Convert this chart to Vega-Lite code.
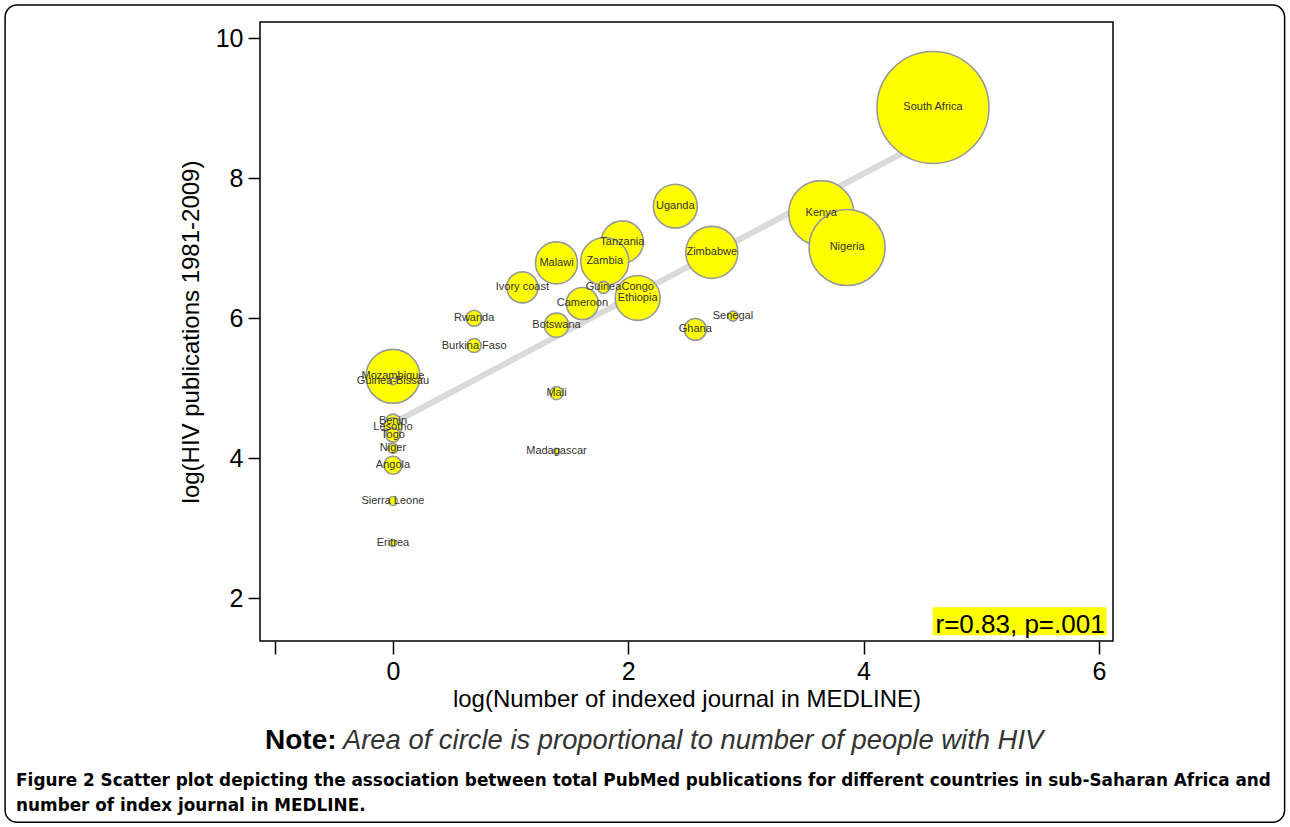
{
  "$schema": "https://vega.github.io/schema/vega-lite/v6.json",
  "autosize": {"type": "none"},
  "width": 853,
  "height": 619,
  "padding": {"left": 260, "top": 22, "right": 177, "bottom": 186},
  "background": "white",
  "config": {
    "view": {"stroke": "#000000", "strokeWidth": 1.5},
    "font": "Liberation Sans"
  },
  "datasets": {
    "countries": [
      {"country": "South Africa", "journals_log": 4.59, "pubs_log": 9.01, "hiv": 5600},
      {"country": "Kenya", "journals_log": 3.64, "pubs_log": 7.5, "hiv": 1890},
      {"country": "Nigeria", "journals_log": 3.86, "pubs_log": 7.01, "hiv": 2580},
      {"country": "Zimbabwe", "journals_log": 2.71, "pubs_log": 6.94, "hiv": 1210},
      {"country": "Uganda", "journals_log": 2.4, "pubs_log": 7.6, "hiv": 860},
      {"country": "Tanzania", "journals_log": 1.95, "pubs_log": 7.09, "hiv": 790},
      {"country": "Zambia", "journals_log": 1.8, "pubs_log": 6.81, "hiv": 1030},
      {"country": "Guinea", "journals_log": 1.79, "pubs_log": 6.44, "hiv": 64},
      {"country": "Malawi", "journals_log": 1.39, "pubs_log": 6.79, "hiv": 790},
      {"country": "Ivory coast", "journals_log": 1.1, "pubs_log": 6.44, "hiv": 430},
      {"country": "Congo", "journals_log": 2.08, "pubs_log": 6.44, "hiv": 114},
      {"country": "Ethiopia", "journals_log": 2.08, "pubs_log": 6.29, "hiv": 900},
      {"country": "Cameroon", "journals_log": 1.61, "pubs_log": 6.21, "hiv": 460},
      {"country": "Botswana", "journals_log": 1.39, "pubs_log": 5.9, "hiv": 260},
      {"country": "Rwanda", "journals_log": 0.69, "pubs_log": 6.0, "hiv": 114},
      {"country": "Burkina Faso", "journals_log": 0.69, "pubs_log": 5.61, "hiv": 88},
      {"country": "Ghana", "journals_log": 2.57, "pubs_log": 5.84, "hiv": 215},
      {"country": "Senegal", "journals_log": 2.89, "pubs_log": 6.03, "hiv": 45},
      {"country": "Mali", "journals_log": 1.39, "pubs_log": 4.93, "hiv": 75},
      {"country": "Madagascar", "journals_log": 1.39, "pubs_log": 4.1, "hiv": 16},
      {"country": "Mozambique", "journals_log": 0, "pubs_log": 5.17, "hiv": 1300},
      {"country": "Guinea-Bissau", "journals_log": 0, "pubs_log": 5.1, "hiv": 22},
      {"country": "Benin", "journals_log": 0, "pubs_log": 4.53, "hiv": 88},
      {"country": "Lesotho", "journals_log": 0, "pubs_log": 4.45, "hiv": 145},
      {"country": "Togo", "journals_log": 0, "pubs_log": 4.33, "hiv": 88},
      {"country": "Niger", "journals_log": 0, "pubs_log": 4.14, "hiv": 45},
      {"country": "Angola", "journals_log": 0, "pubs_log": 3.9, "hiv": 145},
      {"country": "Sierra Leone", "journals_log": 0, "pubs_log": 3.39, "hiv": 36},
      {"country": "Eritrea", "journals_log": 0, "pubs_log": 2.79, "hiv": 22}
    ],
    "fit": [
      {"journals_log": 0, "pubs_log": 4.5},
      {"journals_log": 4.59, "pubs_log": 8.59}
    ]
  },
  "layer": [
    {
      "data": {"values": [{}]},
      "mark": {"type": "rect", "clip": false, "fill": "white", "fillOpacity": 0, "stroke": "#000000", "strokeWidth": 1.5, "cornerRadius": 12},
      "encoding": {
        "x": {"datum": -3.2965, "type": "quantitative"},
        "x2": {"datum": 7.5786},
        "y": {"datum": 10.4714, "type": "quantitative"},
        "y2": {"datum": -1.2}
      }
    },
    {
      "data": {"name": "fit"},
      "mark": {"type": "line", "color": "#dadada", "strokeWidth": 6, "strokeCap": "butt"},
      "encoding": {
        "x": {"field": "journals_log", "type": "quantitative"},
        "y": {"field": "pubs_log", "type": "quantitative"}
      }
    },
    {
      "data": {"name": "countries"},
      "mark": {"type": "circle", "fill": "#ffff00", "stroke": "#999999", "strokeWidth": 1.6, "opacity": 1, "fillOpacity": 1},
      "encoding": {
        "x": {
          "field": "journals_log", "type": "quantitative",
          "scale": {"domain": [-1.13, 6.12], "nice": false, "zero": false},
          "axis": {
            "title": "log(Number of indexed journal in MEDLINE)",
            "values": [-1, 0, 2, 4, 6],
            "format": "d",
            "labelExpr": "datum.value == -1 ? '' : datum.label",
            "domain": false, "grid": false,
            "tickSize": 13, "tickColor": "#000000", "tickWidth": 1.5,
            "labelFont": "Liberation Sans", "labelFontSize": 25, "labelColor": "#000000",
            "labelPadding": 5, "labelFlush": false, "labelOverlap": false,
            "titleFont": "Liberation Sans", "titleFontSize": 24, "titleFontWeight": "normal", "titleColor": "#000000",
            "titlePadding": 3
          }
        },
        "y": {
          "field": "pubs_log", "type": "quantitative",
          "scale": {"domain": [1.39, 10.23], "nice": false, "zero": false},
          "axis": {
            "title": "log(HIV publications 1981-2009)",
            "values": [2, 4, 6, 8, 10],
            "format": "d",
            "domain": false, "grid": false,
            "tickSize": 12, "tickColor": "#000000", "tickWidth": 1.5,
            "labelFont": "Liberation Sans", "labelFontSize": 25, "labelColor": "#000000",
            "labelPadding": 5, "labelFlush": false, "labelOverlap": false,
            "titleFont": "Liberation Sans", "titleFontSize": 24, "titleFontWeight": "normal", "titleColor": "#000000",
            "titlePadding": 12
          }
        },
        "size": {"field": "hiv", "type": "quantitative", "scale": {"type": "linear", "domain": [0, 5600], "range": [0, 12544]}, "legend": null}
      }
    },
    {
      "data": {"name": "countries"},
      "mark": {"type": "text", "font": "Liberation Sans", "fontSize": 11, "fill": "#333333", "align": "center", "baseline": "middle"},
      "encoding": {
        "x": {"field": "journals_log", "type": "quantitative"},
        "y": {"field": "pubs_log", "type": "quantitative"},
        "text": {"field": "country"}
      }
    },
    {
      "data": {"values": [{}]},
      "mark": {"type": "rect", "clip": false, "fill": "#ffff00"},
      "encoding": {
        "x": {"datum": 4.588, "type": "quantitative"},
        "x2": {"datum": 6.066},
        "y": {"datum": 1.871, "type": "quantitative"},
        "y2": {"datum": 1.471}
      }
    },
    {
      "data": {"values": [{}]},
      "mark": {"type": "text", "clip": false, "font": "Liberation Sans", "fontSize": 26, "fill": "#000000", "align": "right", "baseline": "alphabetic"},
      "encoding": {
        "x": {"datum": 6.049, "type": "quantitative"},
        "y": {"datum": 1.5, "type": "quantitative"},
        "text": {"value": "r=0.83, p=.001"}
      }
    },
    {
      "data": {"values": [{}]},
      "mark": {"type": "text", "clip": false, "font": "Liberation Sans", "fontSize": 28, "fontWeight": "bold", "fill": "#000000", "align": "left", "baseline": "middle"},
      "encoding": {
        "x": {"datum": -1.0875, "type": "quantitative"},
        "y": {"datum": -0.043, "type": "quantitative"},
        "text": {"value": "Note:"}
      }
    },
    {
      "data": {"values": [{}]},
      "mark": {"type": "text", "clip": false, "font": "Liberation Sans", "fontSize": 27.4, "fontStyle": "italic", "fill": "#333333", "align": "left", "baseline": "middle"},
      "encoding": {
        "x": {"datum": -0.425, "type": "quantitative"},
        "y": {"datum": -0.043, "type": "quantitative"},
        "text": {"value": "Area of circle is proportional to number of people with HIV"}
      }
    },
    {
      "data": {"values": [{}]},
      "mark": {"type": "text", "clip": false, "font": "DejaVu Sans", "fontSize": 16.85, "fontWeight": "bold", "fill": "#000000", "align": "left", "baseline": "middle"},
      "encoding": {
        "x": {"datum": -3.203, "type": "quantitative"},
        "y": {"datum": -0.614, "type": "quantitative"},
        "text": {"value": "Figure 2 Scatter plot depicting the association between total PubMed publications for different countries in sub-Saharan Africa and"}
      }
    },
    {
      "data": {"values": [{}]},
      "mark": {"type": "text", "clip": false, "font": "DejaVu Sans", "fontSize": 16.85, "fontWeight": "bold", "fill": "#000000", "align": "left", "baseline": "middle"},
      "encoding": {
        "x": {"datum": -3.203, "type": "quantitative"},
        "y": {"datum": -0.971, "type": "quantitative"},
        "text": {"value": "number of index journal in MEDLINE."}
      }
    }
  ]
}
